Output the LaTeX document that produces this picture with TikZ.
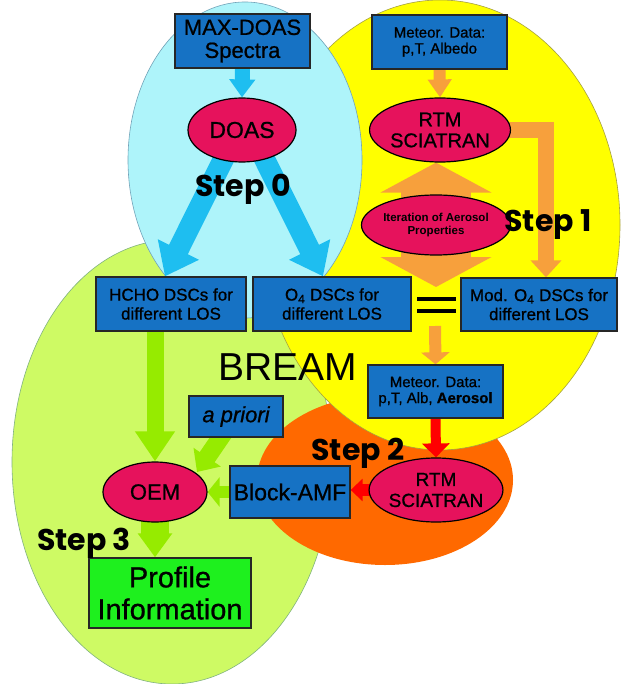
\documentclass[tikz,border=0pt]{standalone}
\usepackage{fontspec}
\setmainfont{Liberation Sans}
\newfontfamily\boxfont{Liberation Sans}[FakeBold=0.8]
\newfontfamily\stepfont{Poppins}
\usetikzlibrary{arrows.meta,shapes.geometric,calc}
\pgfdeclarelayer{bg}\pgfdeclarelayer{arr}\pgfsetlayers{bg,arr,main}
\definecolor{boxblue}{RGB}{22,114,196}
\definecolor{ellred}{RGB}{230,18,92}
\definecolor{cyanbg}{RGB}{174,244,250}
\definecolor{yellowbg}{RGB}{255,255,0}
\definecolor{greenbg}{RGB}{206,250,100}
\definecolor{orangebg}{RGB}{255,105,0}
\definecolor{cyanarr}{RGB}{30,190,240}
\definecolor{orarr}{RGB}{247,160,60}
\definecolor{redarr}{RGB}{255,0,0}
\definecolor{grarr}{RGB}{150,235,0}
\definecolor{profgreen}{RGB}{30,240,30}
\begin{document}
\begin{tikzpicture}[x=1pt,y=-1pt,
  box/.style={draw=black!85, line width=1.3pt, fill=boxblue, inner sep=0pt, align=center, text=black},
  ell/.style={ellipse, draw=black, line width=1.2pt, fill=ellred, inner sep=0pt, align=center, text=black},
  steplbl/.style={anchor=base, font=\stepfont\bfseries\fontsize{30}{30}\selectfont},
  blk/.style={line cap=butt, line join=miter}
]
\useasboundingbox (0,0) rectangle (625,684);
% background regions
\begin{pgfonlayer}{bg}
\filldraw[fill=greenbg, draw=green!40!black!50, line width=0.6pt] (172,462) ellipse [x radius=160pt, y radius=222pt];
\fill[orangebg] (385,480) ellipse [x radius=128pt, y radius=85pt];
\filldraw[fill=yellowbg, draw=yellow!60!black, line width=0.6pt] (440,225) ellipse [x radius=180pt, y radius=225pt];
\filldraw[fill=cyanbg, draw=cyan!40!gray, line width=0.6pt] (245,160) ellipse [x radius=117pt, y radius=158pt];
\end{pgfonlayer}

% nodes
\node[box, minimum width=135pt, minimum height=54pt, font=\boxfont\fontsize{22}{23}\selectfont] (maxdoas) at (242.5,41) {MAX-DOAS\\Spectra};
\node[box, minimum width=135pt, minimum height=54pt, font=\boxfont\fontsize{15}{16}\selectfont] (met1) at (439.5,42) {Meteor. Data:\\p,T, Albedo};
\node[ell, minimum width=108pt, minimum height=64pt, font=\boxfont\fontsize{23}{24}\selectfont] (doas) at (242,130) {DOAS};
\node[ell, minimum width=108pt, minimum height=64pt, font=\boxfont\fontsize{20}{21}\selectfont] (rtm1) at (440,130) {RTM\\SCIATRAN};
\node[ell, minimum width=114pt, minimum height=60pt, font=\bfseries\fontsize{11.5}{13}\selectfont] (iter) at (436,225) {Iteration of Aerosol\\Properties};
\node[box, minimum width=150pt, minimum height=54pt, font=\boxfont\fontsize{17}{19}\selectfont] (hcho) at (171,304) {HCHO DSCs for\\different LOS};
\node[box, minimum width=158pt, minimum height=54pt, font=\boxfont\fontsize{17}{19}\selectfont] (o4) at (332,304) {O\textsubscript{4} DSCs for\\different LOS};
\node[box, minimum width=156pt, minimum height=53pt, font=\boxfont\fontsize{17}{19}\selectfont] (mod) at (539,304.5) {Mod. O\textsubscript{4} DSCs for\\different LOS};
\node[box, minimum width=135pt, minimum height=53pt, font=\boxfont\fontsize{15}{16}\selectfont] (met2) at (435.5,391.5) {Meteor. Data:\\p,T, Alb, \textbf{Aerosol}};
\node[box, minimum width=94pt, minimum height=41pt, font=\boxfont\itshape\fontsize{22}{23}\selectfont] (apriori) at (236,416.5) {a priori};
\node[ell, minimum width=108pt, minimum height=64pt, font=\boxfont\fontsize{19}{21}\selectfont] (rtm2) at (436,490) {RTM\\SCIATRAN};
\node[box, minimum width=120pt, minimum height=52pt, font=\boxfont\fontsize{23}{24}\selectfont] (block) at (290,492) {Block-AMF};
\node[ell, minimum width=104pt, minimum height=60pt, font=\boxfont\fontsize{22}{23}\selectfont] (oem) at (155,492) {OEM};
\node[box, fill=profgreen, minimum width=162pt, minimum height=70pt, font=\boxfont\fontsize{29}{32}\selectfont] (profile) at (170,593) {Profile\\Information};

\node[steplbl] (s0) at (243,197) {Step 0};
\node[steplbl] (s1) at (548,232) {Step 1};
\node[steplbl] (s2) at (358,460) {Step 2};
\node[steplbl] (s3) at (84,550) {Step 3};
\node[anchor=base, font=\fontsize{39}{39}\selectfont] (bream) at (287.5,380) {BREAM};

% equals sign
\draw[line width=4pt] (417,299) -- (456,299);
\draw[line width=4pt] (417,311) -- (456,311);
\coordinate (eqb) at (435,326);
\coordinate (itertip) at (436,287);

% connectors
\begin{pgfonlayer}{arr}
\draw[blk, cyanarr, line width=15pt, -{Triangle[width=25pt,length=18pt]}] (maxdoas.south) -- (doas.north);
\draw[blk, cyanarr, line width=21pt, -{Triangle[width=44pt,length=30pt]}] ($(doas.center)+(-14,20)$) -- ($(hcho.north)+(-6,0)$);
\draw[blk, cyanarr, line width=21pt, -{Triangle[width=44pt,length=30pt]}] ($(doas.center)+(18,20)$) -- ($(o4.north)+(-9,0)$);
\draw[blk, orarr, line width=12pt, -{Triangle[width=23pt,length=18pt]}] (met1.south) -- (rtm1.north);
\draw[blk, orarr, line width=16pt, -{Triangle[width=30pt,length=17pt]}] (rtm1.center) -| ($(mod.north)+(7,0)$);
\draw[blk, orarr, line width=70pt, {Triangle[width=110pt,length=30pt]}-{Triangle[width=110pt,length=30pt]}] (iter.center |- rtm1.south) -- (itertip);
\draw[blk, orarr, line width=12pt, -{Triangle[width=28pt,length=12pt]}] (eqb) -- (met2.north);
\draw[blk, redarr, line width=10pt, -{Triangle[width=27pt,length=14pt]}] (met2.south) -- (rtm2.north);
\draw[blk, redarr, line width=12pt, -{Triangle[width=22pt,length=12pt]}] (rtm2.center) -- (rtm2.center -| block.east);
\draw[blk, grarr, line width=17pt, -{Triangle[width=38pt,length=30pt]}] (oem.north |- hcho.south) -- (oem.north);
\draw[blk, grarr, line width=12pt, -{Triangle[width=29pt,length=12pt]}] (block.center) -- (oem.east);
\draw[blk, grarr, line width=18pt, -{Triangle[width=32pt,length=18pt]}] ($(apriori.south)+(-10,-8)$) -- ($(oem.center)+(42,-20)$);
\draw[blk, grarr, line width=28pt, -{Triangle[width=33pt,length=24pt]}] (oem.center) -- (oem.south |- profile.north);
\end{pgfonlayer}
\end{tikzpicture}
\end{document}
